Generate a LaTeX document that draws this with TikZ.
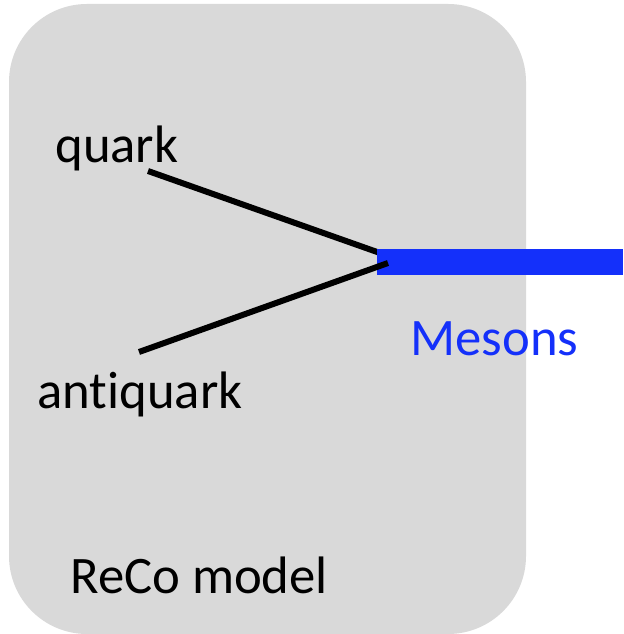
\documentclass[tikz,border=0pt]{standalone}
\usepackage{fontspec}
\setmainfont{Carlito}[Ligatures={NoCommon}]
\usepackage{xcolor}
\usepackage{tikz}
\usetikzlibrary{positioning}

\definecolor{boxgray}{RGB}{217,217,217}
\definecolor{mesonblue}{RGB}{20,48,250}

\begin{document}
\begin{tikzpicture}[x=0.02cm, y=-0.02cm,
    lbl/.style={anchor=base west, inner sep=0pt, font=\fontsize{30}{36}\selectfont},
    parton/.style={black, line width=0.12cm},
    mesonbar/.style={mesonblue, line width=0.54cm}]
    \useasboundingbox (0, 0) rectangle (623, 634);

    \coordinate (Q1) at (148, 171);
    \coordinate (Q2) at (380, 253);
    \coordinate (AQ1) at (139, 352);
    \coordinate (AQ2) at (388, 263);
    \coordinate (M1) at (377, 262);
    \coordinate (M2) at (623, 262);

    \fill [boxgray, rounded corners=1.56cm] (9, 4) rectangle (526, 634);

    \node [lbl] (quark) at (55, 163) {quark};
    \node [lbl] (antiquark) at (37, 408) {antiquark};
    \node [lbl, text=mesonblue] (mesons) at (410, 355) {Mesons};
    \node [lbl] (reco) at (70, 593) {ReCo model};

    \draw [parton] (Q1) to (Q2);
    \draw [mesonbar] (M1) to (M2);
    \draw [parton] (AQ1) to (AQ2);
  \end{tikzpicture}
\end{document}
